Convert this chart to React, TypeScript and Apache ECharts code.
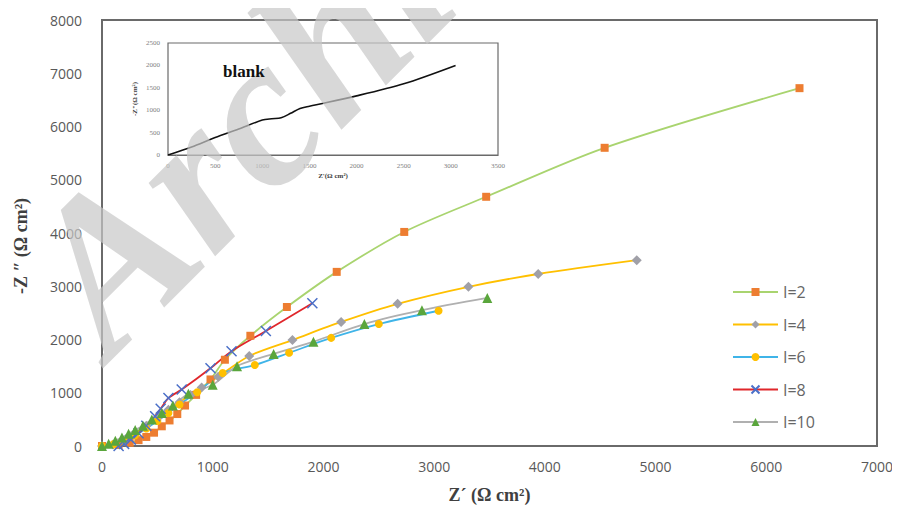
import React, { useEffect, useRef } from "react";
import * as echarts from "echarts";

// ---- data (Z' , -Z'') in Ω cm² ----
const seriesNames = ["I=2", "I=4", "I=6", "I=8", "I=10"];

const dataI2: number[][] = [
  [0, 0], [150, 20], [250, 60], [330, 110], [400, 170], [470, 250], [540, 370], [610, 480],
  [680, 600], [750, 760], [850, 960], [980, 1250], [1110, 1620], [1340, 2070], [1670, 2610],
  [2120, 3270], [2730, 4020], [3470, 4680], [4540, 5600], [6300, 6720],
];
const dataI4: number[][] = [
  [0, 0], [100, 30], [200, 100], [300, 230], [400, 380], [500, 520], [600, 680], [700, 820],
  [800, 960], [900, 1100], [1050, 1300], [1330, 1690], [1720, 1990], [2160, 2330],
  [2670, 2670], [3310, 2990], [3940, 3230], [4830, 3490],
];
const dataI6: number[][] = [
  [0, 0], [100, 30], [200, 90], [300, 200], [400, 330], [500, 470], [600, 620], [700, 780],
  [860, 1010], [1090, 1370], [1380, 1520], [1690, 1750], [2070, 2030], [2500, 2290], [3040, 2540],
];
const dataI8: number[][] = [
  [150, 0], [200, 40], [260, 120], [330, 240], [400, 380], [480, 560], [530, 700], [600, 900],
  [720, 1060], [980, 1460], [1170, 1780], [1480, 2160], [1900, 2680],
];
const dataI10: number[][] = [
  [0, 0], [60, 40], [120, 100], [180, 160], [240, 230], [300, 300], [370, 380], [450, 500],
  [540, 620], [640, 760], [780, 980], [1000, 1150], [1220, 1500], [1550, 1730], [1910, 1960],
  [2370, 2290], [2890, 2550], [3480, 2780],
];
const blankData: number[][] = [
  [0, 0], [250, 180], [500, 390], [750, 580], [1000, 780], [1100, 810], [1200, 830],
  [1300, 930], [1400, 1040], [1500, 1090], [2000, 1320], [2500, 1590], [3050, 2000],
];

const mainXTicks = { min: 0, max: 7000, interval: 1000 };
const mainYTicks = { min: 0, max: 8000, interval: 1000 };
const insetXTicks = { min: 0, max: 3500, interval: 500 };
const insetYTicks = { min: 0, max: 2500, interval: 500 };

const lineColors = ["#a9d46f", "#ffc000", "#3fb4e8", "#e0262b", "#b0b0b0"];
const markerColors = ["#ed7d31", "#a0a0a8", "#ffc000", "#4a6fc8", "#5aa63c"];
const markerSymbols = ["rect", "diamond", "circle", "path://M0,0L10,10M10,0L0,10", "triangle"];
const markerSizes = [8, 10, 8, 10, 10];
const allData = [dataI2, dataI4, dataI6, dataI8, dataI10];

const plain = (v: number) => String(v);

export default function App() {
  const ref = useRef<HTMLDivElement>(null);
  useEffect(() => {
    if (!ref.current) return;
    const chart = echarts.init(ref.current, undefined, { renderer: "svg" });
    const tickLabel = { color: "#595959", fontSize: 14, fontFamily: "Open Sans", formatter: plain };
    const serifName = {
      fontFamily: "Liberation Serif",
      fontWeight: "bold" as const,
      fontSize: 18,
      color: "#404040",
    };
    const insetLabel = { color: "#808080", fontSize: 7, fontFamily: "Liberation Serif" };
    const mainSeries = allData.map((d, i) => ({
      name: seriesNames[i],
      type: "line",
      xAxisIndex: 0,
      yAxisIndex: 0,
      data: d,
      smooth: 0.3,
      symbol: markerSymbols[i],
      symbolSize: markerSizes[i],
      showSymbol: true,
      lineStyle: { color: lineColors[i], width: 1.8 },
      itemStyle:
        i === 3
          ? { color: markerColors[i], borderColor: markerColors[i], borderWidth: 1.5 }
          : { color: markerColors[i] },
      z: 3,
    }));
    chart.setOption({
      animation: false,
      backgroundColor: "#ffffff",
      grid: [
        {
          left: 102, top: 20, width: 775, height: 426,
          show: true, borderColor: "#6a6a6a", borderWidth: 2, backgroundColor: "transparent",
        },
        {
          left: 168, top: 43, width: 330, height: 112,
          show: true, borderColor: "#6a6a6a", borderWidth: 1.2, backgroundColor: "#ffffff",
          z: 5,
        },
      ],
      legend: {
        orient: "vertical",
        left: 727,
        top: 278,
        itemWidth: 45,
        itemHeight: 10,
        itemGap: 14.5,
        data: seriesNames,
        textStyle: { color: "#666666", fontSize: 16, fontFamily: "Open Sans", lineHeight: 18 },
      },
      xAxis: [
        {
          type: "value", gridIndex: 0, ...mainXTicks,
          splitLine: { show: false }, axisTick: { show: false },
          axisLine: { show: true, lineStyle: { color: "#6a6a6a", width: 2 } },
          axisLabel: { ...tickLabel, margin: 13 },
          name: "Z\u00b4 (\u03a9 cm\u00b2)", nameLocation: "middle", nameGap: 40,
          nameTextStyle: serifName,
        },
        {
          type: "value", gridIndex: 1, ...insetXTicks,
          splitLine: { show: false }, axisTick: { show: false },
          axisLine: { show: true, lineStyle: { color: "#6a6a6a" } },
          axisLabel: { ...insetLabel, margin: 7, formatter: plain },
          name: "Z'(\u03a9 cm\u00b2)", nameLocation: "middle", nameGap: 17,
          nameTextStyle: { ...insetLabel, color: "#404040", fontWeight: "bold" },
          z: 6,
        },
      ],
      yAxis: [
        {
          type: "value", gridIndex: 0, ...mainYTicks,
          splitLine: { show: false }, axisTick: { show: false },
          axisLine: { show: true, lineStyle: { color: "#6a6a6a", width: 2 } },
          axisLabel: { ...tickLabel, margin: 20 },
          name: "-Z \u2033 (\u03a9 cm\u00b2)", nameLocation: "middle", nameGap: 72,
          nameTextStyle: { ...serifName, padding: [0, 26, 0, 0] },
        },
        {
          type: "value", gridIndex: 1, ...insetYTicks,
          splitLine: { show: false }, axisTick: { show: false },
          axisLine: { show: false },
          axisLabel: { ...insetLabel, margin: 8, formatter: plain },
          name: "-Z\"(\u03a9 cm\u00b2)", nameLocation: "middle", nameGap: 30,
          nameTextStyle: { ...insetLabel, color: "#404040", fontWeight: "bold" },
          z: 6,
        },
      ],
      series: [
        ...mainSeries,
        {
          name: "blank",
          type: "line",
          xAxisIndex: 1,
          yAxisIndex: 1,
          data: blankData,
          smooth: 0.3,
          showSymbol: false,
          lineStyle: { color: "#111111", width: 1.6 },
          z: 7,
        },
      ],
      graphic: [
        {
          type: "text",
          x: 135,
          y: 385,
          rotation: Math.PI / 4,
          z: 20,
          silent: true,
          style: {
            text: "Archive",
            font: 'bold italic 215px "Liberation Serif"',
            fill: "rgba(200,200,200,0.7)",
            textVerticalAlign: "bottom",
          },
        },
        {
          type: "text",
          left: 223,
          top: 63,
          z: 30,
          style: {
            text: "blank",
            font: 'bold 17px "Liberation Serif"',
            fill: "#111111",
          },
        },
      ],
    });
    return () => chart.dispose();
  }, []);
  return <div ref={ref} style={{ width: 900, height: 515, margin: -8 }} />;
}
